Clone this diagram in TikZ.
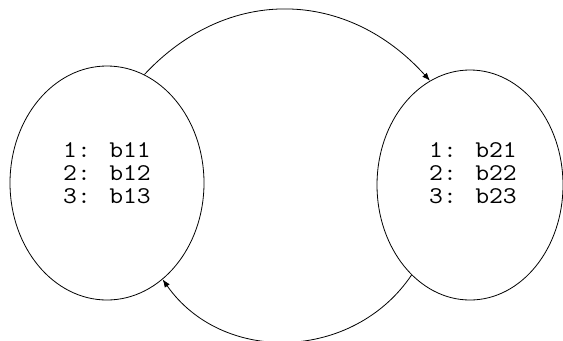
\documentclass[tikz,border=0pt]{standalone}
\usepackage{fontspec}
\usetikzlibrary{shapes.geometric,arrows.meta}
\tikzset{
  state/.style={draw, ellipse, inner sep=0pt, line width=0.6pt},
  listing/.style={inner sep=0pt, font=\ttfamily\fontsize{18}{17.25}\selectfont},
  link/.style={line width=0.6pt, -{Latex[length=6pt,width=4.5pt]}}
}
% three lines of monospaced text, widened a little
\newcommand{\regs}[3]{\scalebox{1.12}[1]{\renewcommand{\arraystretch}{1}%
  \begin{tabular}{@{}c@{}}#1\\#2\\#3\end{tabular}}}
\begin{document}
\begin{tikzpicture}[x=0.75pt,y=-0.75pt]
  \useasboundingbox (0,0) rectangle (563,340);
  % the two states
  \node[state, minimum width=194*0.75pt, minimum height=234*0.75pt] (s1) at (107,183) {};
  \node[state, minimum width=186*0.75pt, minimum height=230*0.75pt] (s2) at (470,185) {};
  % their contents
  \node[listing] (t1) at (107,176) {\regs{1: b11}{2: b12}{3: b13}};
  \node[listing] (t2) at (473,176) {\regs{1: b21}{2: b22}{3: b23}};
  % transitions
  \draw[link] (s1.71) to[out=47, in=132, looseness=1.1] (s2.111);
  \draw[link] (s2.237) to[out=236, in=305, looseness=1.07] (s1.300);
\end{tikzpicture}
\end{document}
